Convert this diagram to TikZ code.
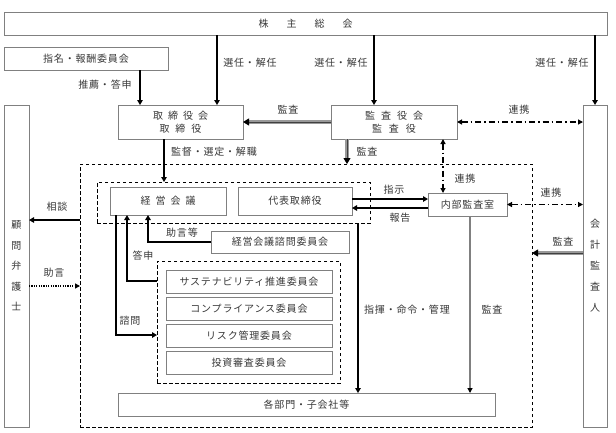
\documentclass[tikz,border=0pt]{standalone}
\usepackage{fontspec}
\setmainfont{Noto Sans CJK JP}
\newfontfamily\jp[LetterSpace=8]{Noto Sans CJK JP}
\usetikzlibrary{arrows.meta}
\newcommand\gp[1]{\hspace{#1pt}}
\begin{document}
\begin{tikzpicture}[x=1pt,y=-1pt,
  font=\jp\fontsize{10}{12}\selectfont,
  box/.style={draw=black!50, line width=0.8pt, fill=white, inner sep=0pt, outer sep=0pt, text=black!78},
  dbox/.style={draw=black, dash pattern=on 3.5pt off 2.5pt, line width=0.8pt, inner sep=0pt, outer sep=0pt},
  arr/.style={draw=black, line width=1.4pt, -{Triangle[length=5pt,width=5.5pt]}},
  dd/.style={draw=black, line width=1.2pt, dash pattern=on 6pt off 3pt on 1.5pt off 3pt,
    {Triangle[length=5pt,width=5pt]}-{Triangle[length=5pt,width=5pt]}},
  dotarr/.style={draw=black, line width=1.3pt, dash pattern=on 1.2pt off 1.2pt, -{Triangle[length=5pt,width=5pt]}},
  band/.style={draw=black!40, line width=4pt, shorten >=5pt},
  core/.style={draw=black!75, line width=1pt, -{Triangle[length=6pt,width=7pt,color=black]}},
  gline/.style={draw=black!50, line width=2pt, -{Triangle[length=5pt,width=5pt,fill=black,color=black]}},
  lab/.style={inner sep=0pt, text=black!78}
]
\useasboundingbox (0,0) rectangle (616,432);
\fill[white] (0,0) rectangle (616,432);

% dashed containers
\node[dbox, minimum width=452pt, minimum height=263pt] (mgmt) at (306,295.5) {};
\node[dbox, minimum width=273pt, minimum height=41pt] (ex) at (233.5,202.5) {};
\node[dbox, minimum width=183pt, minimum height=122pt] (comm) at (248.5,322) {};

% boxes
\node[box, minimum width=603pt, minimum height=23pt] (sh) at (305.5,23.5) {株\gp{18}主\gp{18}総\gp{18}会};
\node[box, minimum width=164pt, minimum height=23pt] (nom) at (86,58.5) {指名・報酬委員会};
\node[box, minimum width=125pt, minimum height=34pt, align=center, font=\jp\fontsize{10}{12.5}\selectfont] (bod) at (180.5,122) {取\gp5締\gp5役\gp5会\\取\gp6締\gp6役};
\node[box, minimum width=126pt, minimum height=34pt, align=center, font=\jp\fontsize{10}{12.5}\selectfont] (asb) at (394,122) {監\gp6査\gp6役\gp6会\\監\gp7査\gp7役};
\node[box, minimum width=24pt, minimum height=322pt, align=center, font=\jp\fontsize{10}{21}\selectfont] (aud) at (595,266) {会\\計\\監\\査\\人};
\node[box, minimum width=25pt, minimum height=322pt, align=center, font=\jp\fontsize{10}{20.5}\selectfont] (law) at (16.5,266) {顧\\問\\弁\\護\\士};
\node[box, minimum width=116pt, minimum height=28pt] (mc) at (168,201) {経\gp5営\gp5会\gp5議};
\node[box, minimum width=114pt, minimum height=28pt] (ceo) at (295,201) {代表取締役};
\node[box, minimum width=79pt, minimum height=23pt] (ia) at (467.5,204.5) {内部監査室};
\node[box, minimum width=138pt, minimum height=22pt] (adv) at (280,242) {経営会議諮問委員会};
\node[box, minimum width=166pt, minimum height=23pt] (c1) at (249,281.5) {サステナビリティ推進委員会};
\node[box, minimum width=166pt, minimum height=23pt] (c2) at (249,308.5) {コンプライアンス委員会};
\node[box, minimum width=166pt, minimum height=23pt] (c3) at (249,335.5) {リスク管理委員会};
\node[box, minimum width=166pt, minimum height=23pt] (c4) at (249,362.5) {投資審査委員会};
\node[box, minimum width=377pt, minimum height=23pt] (dept) at (306.5,404.5) {各部門・子会社等};

% connectors
\draw[arr] (nom.south -| 140,0) -- (bod.north -| 140,0);
\node[lab] (l1) at (105,85) {推薦・答申};
\draw[arr] (sh.south -| 217,0) -- (bod.north -| 217,0);
\node[lab] (l2) at (250,63) {選任・解任};
\draw[arr] (sh.south -| 374,0) -- (asb.north -| 374,0);
\node[lab] (l3) at (341,63) {選任・解任};
\draw[arr] (sh.south -| aud.north) -- (aud.north);
\node[lab] (l4) at (562,63) {選任・解任};

\draw[band] (asb.west) -- (bod.east);
\draw[core] (asb.west) -- (bod.east);
\node[lab] (l5) at (288,110) {監査};
\draw[dd] (asb.east) -- (aud.west |- asb.east);
\node[lab] (l6) at (519,110) {連携};

\draw[band] (asb.south -| 347,0) -- (mgmt.north -| 347,0);
\draw[core] (asb.south -| 347,0) -- (mgmt.north -| 347,0);
\node[lab] (l7) at (367,152) {監査};
\draw[dd] (asb.south -| 443,0) -- (ia.north -| 443,0);
\node[lab] (l8) at (465,179) {連携};

\draw[arr] (bod.south -| 164,0) -- (ex.north -| 164,0);
\node[lab] (l9) at (214,152) {監督・選定・解職};

\draw[arr] (ceo.east |- 0,199) -- (ia.west |- 0,199);
\node[lab] (l10) at (394,190) {指示};
\draw[arr] (ia.west |- 0,208) -- (ceo.east |- 0,208);
\node[lab] (l11) at (400,218) {報告};
\draw[dd] (ia.east) -- (aud.west |- ia.east);
\node[lab] (l12) at (551,193) {連携};

\draw[band] (aud.west |- 0,253) -- (mgmt.east |- 0,253);
\draw[core] (aud.west |- 0,253) -- (mgmt.east |- 0,253);
\node[lab] (l13) at (563,242) {監査};

\draw[arr] (mgmt.west |- 0,220) -- (law.east |- 0,220);
\node[lab] (l14) at (57,207) {相談};
\draw[dotarr] (law.east |- 0,286) -- (mgmt.west |- 0,286);
\node[lab] (l15) at (54,273) {助言};

\draw[arr] (adv.west) -| (mc.south -| 148,0);
\node[lab] (l16) at (182,233) {助言等};
\draw[arr] (comm.west |- 0,281) -| (mc.south -| 127,0);
\node[lab] (l17) at (143,256) {答申};
\draw[arr] (mc.south -| 116,0) |- (comm.west |- 0,335);
\node[lab] (l18) at (130,321) {諮問};

\draw[arr] (ex.south -| 358,0) -- (dept.north -| 358,0);
\node[lab] (l19) at (407,310) {指揮・命令・管理};
\draw[gline] (ia.south -| 470,0) -- (dept.north -| 470,0);
\node[lab] (l20) at (492,310) {監査};
\end{tikzpicture}
\end{document}
